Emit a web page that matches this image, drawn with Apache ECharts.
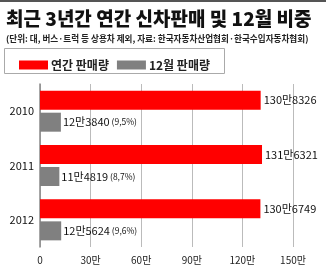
<!DOCTYPE html>
<html><head><meta charset="utf-8">
<script src="https://cdn.jsdelivr.net/npm/echarts@6/dist/echarts.min.js"></script>
<style>html,body{margin:0;padding:0;background:#fff}#c{width:326px;height:265px}</style>
</head><body><div id="c"></div>
<script>
const years = ['2010', '2011', '2012'];
const annualSales = [1308326, 1316321, 1306749];
const decemberSales = [123840, 114819, 125624];
const annualLabels = ['130만8326', '131만6321', '130만6749'];
const decemberLabels = ['12만3840', '11만4819', '12만5624'];
const decemberShares = ['(9,5%)', '(8,7%)', '(9,6%)'];
const xTickLabels = {0: '0', 300000: '30만', 600000: '60만', 900000: '90만', 1200000: '120만', 1500000: '150만'};
const seriesNames = ['연간 판매량', '12월 판매량'];

const font = '"Noto Sans CJK KR", "Noto Sans", sans-serif';
const chart = echarts.init(document.getElementById('c'), null, {renderer: 'canvas'});
chart.setOption({
  backgroundColor: '#fff',
  animation: false,
  textStyle: {fontFamily: font},
  title: [
    {text: '최근 3년간 연간 신차판매 및 12월 비중', left: 1, top: 4,
     textStyle: {fontSize: 19, fontWeight: 900, color: '#111', fontFamily: font}},
    {text: '(단위: 대, 버스·트럭 등 상용차 제외, 자료: 한국자동차산업협회·한국수입자동차협회)', left: 1, top: 29,
     textStyle: {fontSize: 8.6, fontWeight: 'bold', color: '#222', fontFamily: font}}
  ],
  graphic: [
    {type: 'rect', shape: {x: 0, y: 0, width: 326, height: 2}, style: {fill: '#555'}},
    {type: 'rect', shape: {x: 4.5, y: 48.5, width: 220, height: 25}, style: {fill: 'none', stroke: '#aaa', lineWidth: 1}}
  ],
  legend: {
    left: 14, top: 54, itemWidth: 29, itemHeight: 9, itemGap: 8, icon: 'rect',
    data: seriesNames,
    textStyle: {fontSize: 12, fontWeight: 'bold', color: '#222', fontFamily: font, padding: [0, 0, 0, -2]}
  },
  grid: {left: 40, right: 33, top: 84, bottom: 18},
  xAxis: {
    type: 'value', min: 0, max: 1500000, interval: 300000,
    axisLine: {show: false}, axisTick: {show: false},
    splitLine: {show: true, lineStyle: {color: '#bbb', width: 1}},
    axisLabel: {fontSize: 10, color: '#222', margin: 8, formatter: v => xTickLabels[v]}
  },
  yAxis: {
    type: 'category', data: years, inverse: true,
    axisLine: {show: true, lineStyle: {color: '#888', width: 1.5}},
    axisTick: {show: false},
    axisLabel: {fontSize: 11, color: '#111', margin: 6}
  },
  series: [
    {name: seriesNames[0], type: 'bar', data: annualSales, barWidth: 19, barGap: '16%',
     itemStyle: {color: '#ff0000'},
     label: {show: true, position: 'right', distance: 3, fontSize: 11, color: '#111',
       formatter: p => annualLabels[p.dataIndex]}},
    {name: seriesNames[1], type: 'bar', data: decemberSales, barWidth: 19,
     itemStyle: {color: '#808080'},
     label: {show: true, position: 'right', distance: 2,
       formatter: p => '{a|' + decemberLabels[p.dataIndex] + '}{b| ' + decemberShares[p.dataIndex] + '}',
       rich: {a: {fontSize: 11, color: '#111', fontFamily: font}, b: {fontSize: 8.5, color: '#111', fontFamily: font}}}}
  ]
});
</script></body></html>
